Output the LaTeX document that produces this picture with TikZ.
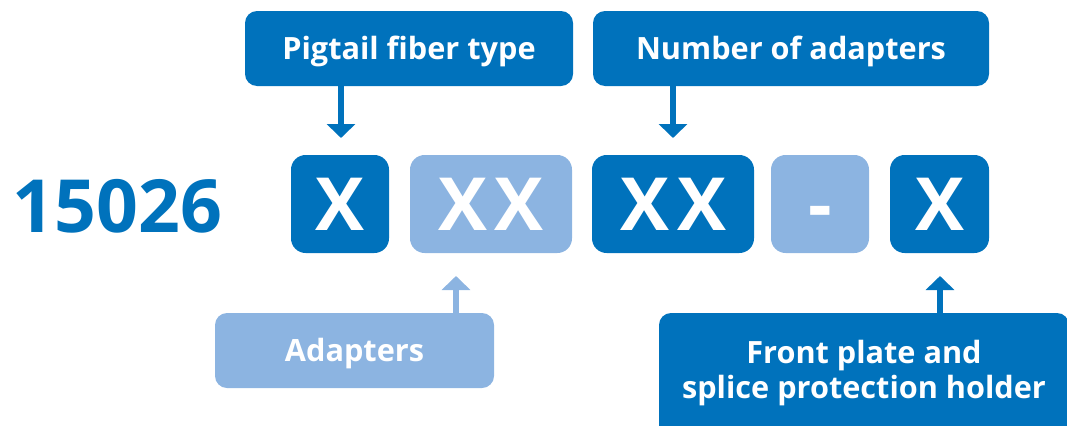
\documentclass[tikz,border=0pt]{standalone}
\usepackage{fontspec}
\setmainfont{Open Sans}
\usetikzlibrary{arrows.meta}
\definecolor{dblue}{RGB}{0,114,188}
\definecolor{lblue}{RGB}{140,180,225}
\begin{document}
\begin{tikzpicture}[x=0.75pt,y=-0.75pt,
  lab/.style={fill=#1, rounded corners=9pt, text=white, inner sep=0pt,
    font=\fontsize{23}{27}\selectfont\bfseries, text height=16.4pt, text depth=0pt},
  code/.style={fill=#1, rounded corners=11pt, text=white, inner sep=0pt,
    minimum height=73.5pt, font=\fontsize{55}{60}\selectfont\bfseries,
    text height=39pt, text depth=0pt},
  arr/.style={draw=#1, line width=4.5pt, -{Triangle[width=21pt,length=10.5pt]}}]
\useasboundingbox (0,0) rectangle (1067,425);
% top labels
\node[lab=dblue, minimum width=246pt, minimum height=56.25pt] (pig) at (409,48.5) {Pigtail fiber type};
\node[lab=dblue, minimum width=297pt, minimum height=56.25pt] (num) at (791,48.5) {Number of adapters};
% code row
\node[text=dblue, inner sep=0pt, font=\fontsize{55}{60}\selectfont\bfseries,
  text height=39pt, text depth=0pt] (base) at (117.5,206) {15026};
\node[code=dblue, minimum width=73.5pt] (c1) at (340,204) {X};
\node[code=lblue, minimum width=121.5pt] (c2) at (491,204) {X\kern6pt X};
\node[code=dblue, minimum width=121.5pt] (c3) at (673,204) {X\kern6pt X};
\node[code=lblue, minimum width=73.5pt] (c4) at (820,204) {-};
\node[code=dblue, minimum width=74.25pt] (c5) at (939.5,204) {X};
% bottom labels
\node[lab=lblue, minimum width=209.25pt, minimum height=56.25pt] (ada) at (354.5,350.5) {Adapters};
\node[fill=dblue, rounded corners=9pt, inner sep=0pt, minimum width=307.5pt, minimum height=95.25pt] (front) at (864,376.5) {};
\node[text=white, align=center, inner sep=0pt, font=\fontsize{23}{26}\selectfont\bfseries] (fronttxt) at (864,373) {Front plate and\\splice protection holder};
% arrows
\coordinate (t1) at (341,138);
\coordinate (t2) at (673,138);
\coordinate (t3) at (456,276);
\coordinate (t4) at (940,276);
\draw[arr=dblue] (pig.south -| t1) -- (t1);
\draw[arr=dblue] (num.south -| t2) -- (t2);
\draw[arr=lblue] (ada.north -| t3) -- (t3);
\draw[arr=dblue] (front.north -| t4) -- (t4);
\end{tikzpicture}
\end{document}
